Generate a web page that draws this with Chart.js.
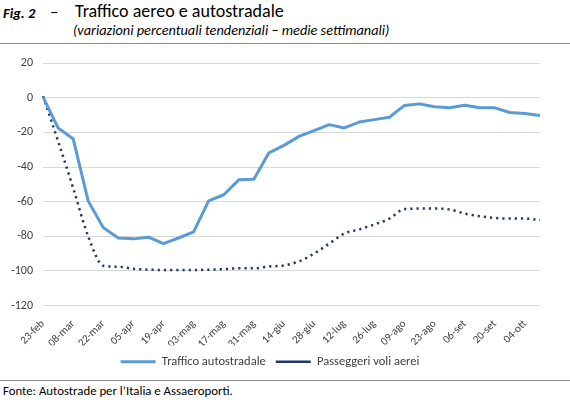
<!DOCTYPE html>
<html><head><meta charset="utf-8">
<script src="https://cdn.jsdelivr.net/npm/chart.js@4/dist/chart.umd.min.js"></script>
<style>
html,body{margin:0;padding:0;background:#fff}
body{width:570px;height:418px;position:relative;overflow:hidden;font-family:Carlito,Lato,"Open Sans",sans-serif;color:#000}
.abs{position:absolute;white-space:nowrap;line-height:normal}
#fig{left:3px;top:4px;font-size:14.5px;font-weight:bold;font-style:italic}
#dash{left:50px;top:1px;font-size:17px}
#title{left:75px;top:0px;font-size:18px}
#sub{left:73px;top:20.5px;font-size:14.3px;font-style:italic}
#rule1{left:0;top:43px;width:570px;height:1px;background:#8c8c8c}
#rule2{left:0;top:380px;width:570px;height:1px;background:#8c8c8c}
#src{left:3px;top:383px;font-size:12.8px}
#wrap{position:absolute;left:0;top:46px;width:570px;height:332px}
</style>
</head><body>
<div class="abs" id="fig">Fig. 2</div>
<div class="abs" id="dash">–</div>
<div class="abs" id="title">Traffico aereo e autostradale</div>
<div class="abs" id="sub">(variazioni percentuali tendenziali – medie settimanali)</div>
<div class="abs" id="rule1"></div>
<div id="wrap"><canvas id="c" width="570" height="332"></canvas></div>
<div class="abs" id="rule2"></div>
<div class="abs" id="src">Fonte: Autostrade per l’Italia e Assaeroporti.</div>
<script>
const weeks = ["23-feb","01-mar","08-mar","15-mar","22-mar","29-mar","05-apr","12-apr","19-apr","26-apr","03-mag","10-mag","17-mag","24-mag","31-mag","07-giu","14-giu","21-giu","28-giu","05-lug","12-lug","19-lug","26-lug","02-ago","09-ago","16-ago","23-ago","30-ago","06-set","13-set","20-set","27-set","04-ott","11-ott"];
const trafficoAutostradale = [0.5,-17.4,-23.6,-59.6,-75,-81,-81.5,-80.5,-84.3,-81,-77.5,-59.5,-56,-47.4,-47,-31.8,-27.5,-22.3,-19,-15.5,-17.4,-14,-12.6,-11.2,-4.4,-3.5,-5.2,-5.8,-4.3,-5.8,-5.8,-8.5,-9.1,-10.2];
const passeggeriVoliAerei = [1,-25,-52,-80,-97,-97.6,-98.8,-99.3,-99.5,-99.5,-99.5,-99.3,-99,-98.5,-98.5,-97.5,-96.8,-94.5,-90,-84.3,-78.5,-76,-73.2,-69.8,-64.3,-64,-64,-64.5,-66.9,-68.4,-69.4,-69.8,-69.8,-70.7];
const yTicks = [20,0,-20,-40,-60,-80,-100,-120];

const FONT = "Carlito, Lato, 'Open Sans', sans-serif";
new Chart(document.getElementById('c'), {
  type:'line',
  data:{
    labels: weeks,
    datasets:[
      {label:'Traffico autostradale', data:trafficoAutostradale, borderColor:'#5B9BD5', backgroundColor:'#5B9BD5', borderWidth:3, pointRadius:0, tension:0, borderJoinStyle:'round'},
      {label:'Passeggeri voli aerei', data:passeggeriVoliAerei, borderColor:'#1F3864', backgroundColor:'#1F3864', borderWidth:2.5, borderDash:[2.2,4], borderCapStyle:'butt', pointRadius:0, cubicInterpolationMode:'monotone'}
    ]
  },
  options:{
    responsive:false, animation:false,
    layout:{padding:{left:0,right:30,top:10,bottom:0}},
    plugins:{
      legend:{position:'bottom', labels:{usePointStyle:true, pointStyle:'line', pointStyleWidth:35, boxHeight:12, padding:10, color:'#404040', font:{family:FONT,size:12.5}}},
      tooltip:{enabled:false}
    },
    scales:{
      x:{
        grid:{display:false, drawTicks:false}, border:{display:false},
        ticks:{autoSkip:false, maxRotation:45, minRotation:45, padding:12, color:'#404040', font:{family:FONT,size:11}},
        afterTickToLabelConversion(s){ s.ticks.forEach((t,i)=>{ t.label = i%2===0 ? weeks[i] : ''; }); },
        afterFit(s){ s.height = 40; }
      },
      y:{
        min:-120, max:20,
        afterBuildTicks(s){ s.ticks = yTicks.map(v=>({value:v})); },
        grid:{color:'#D9D9D9', drawTicks:false}, border:{display:false},
        ticks:{padding:10, color:'#404040', font:{family:FONT,size:12}},
        afterFit(s){ s.width = 43; }
      }
    }
  }
});
</script>
</body></html>
